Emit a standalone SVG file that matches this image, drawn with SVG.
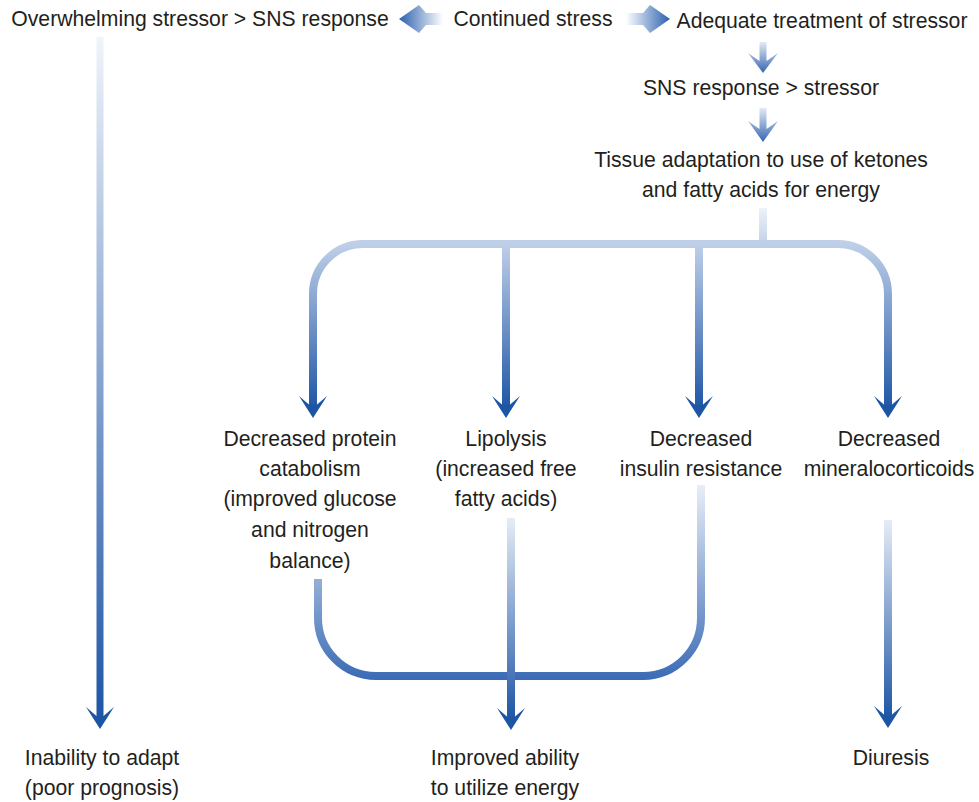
<svg xmlns="http://www.w3.org/2000/svg" width="979" height="802" viewBox="0 0 979 802">
  <style>
    text { font-family: "Liberation Sans", Arial, sans-serif; font-size: 21.2px; fill: #231f20; text-anchor: middle; }
    .flow { fill: none; stroke-width: 8; }
  </style>
  <defs>
    <marker id="head" markerUnits="userSpaceOnUse" markerWidth="40" markerHeight="40" refX="-12" refY="0" orient="auto" overflow="visible">
      <path d="M0,0 L-22,-14 L-13,-3.5 L-13,3.5 L-22,14 Z" fill="#1d55a5"/>
    </marker>
    <linearGradient id="gLeftLong" gradientUnits="userSpaceOnUse" x1="0" y1="37" x2="0" y2="720">
      <stop offset="0" stop-color="#f0f4fa"/>
      <stop offset="1" stop-color="#1d55a5"/>
    </linearGradient>
    <linearGradient id="gStem" gradientUnits="userSpaceOnUse" x1="0" y1="208" x2="0" y2="244">
      <stop offset="0" stop-color="#eef2f9"/>
      <stop offset="1" stop-color="#c2d1e8"/>
    </linearGradient>
    <linearGradient id="gFan" gradientUnits="userSpaceOnUse" x1="0" y1="244" x2="0" y2="410">
      <stop offset="0" stop-color="#bfcfe8"/>
      <stop offset="1" stop-color="#1d55a5"/>
    </linearGradient>
    <linearGradient id="gMerge" gradientUnits="userSpaceOnUse" x1="0" y1="485" x2="0" y2="680">
      <stop offset="0" stop-color="#e8eef7"/>
      <stop offset="1" stop-color="#3a6bb5"/>
    </linearGradient>
    <linearGradient id="gMid" gradientUnits="userSpaceOnUse" x1="0" y1="518" x2="0" y2="720">
      <stop offset="0" stop-color="#e6ecf6"/>
      <stop offset="1" stop-color="#1d55a5"/>
    </linearGradient>
    <linearGradient id="gRight" gradientUnits="userSpaceOnUse" x1="0" y1="520" x2="0" y2="718">
      <stop offset="0" stop-color="#e6ecf6"/>
      <stop offset="1" stop-color="#1d55a5"/>
    </linearGradient>
    <linearGradient id="gToLeft" x1="1" y1="0" x2="0" y2="0">
      <stop offset="0" stop-color="#ffffff"/>
      <stop offset="1" stop-color="#2a60ae"/>
    </linearGradient>
    <linearGradient id="gToRight" x1="0" y1="0" x2="1" y2="0">
      <stop offset="0" stop-color="#ffffff"/>
      <stop offset="1" stop-color="#2a60ae"/>
    </linearGradient>
    <linearGradient id="gDown" x1="0" y1="0" x2="0" y2="1">
      <stop offset="0" stop-color="#e4eaf5"/>
      <stop offset="1" stop-color="#3566b2"/>
    </linearGradient>
  </defs>

  <!-- connectors -->
  <g id="connectors">
    <!-- block arrows out of "Continued stress" -->
    <polygon points="399,19 419,5 426,13 443,13 443,25 426,25 419,33" fill="url(#gToLeft)"/>
    <polygon points="670,19 650,5 643,13 626,13 626,25 643,25 650,33" fill="url(#gToRight)"/>
    <!-- block arrows down the right column -->
    <polygon points="759.5,42 766.5,42 766.5,61 778,53 763,73 748,53 759.5,61" fill="url(#gDown)"/>
    <polygon points="759.5,108 766.5,108 766.5,129 778,121 763,142 748,121 759.5,129" fill="url(#gDown)"/>
    <!-- poor outcome branch -->
    <path d="M100,37 L100,717" fill="none" stroke="url(#gLeftLong)" stroke-width="7" marker-end="url(#head)"/>
    <!-- fan-out from tissue adaptation -->
    <path class="flow" d="M763,208 L763,245" stroke="url(#gStem)"/>
    <path class="flow" d="M313,406 L313,294 A50,50 0 0 1 363,244 L838,244 A50,50 0 0 1 888,294 L888,406" stroke="url(#gFan)" marker-end="url(#head)"/>
    <path class="flow" d="M313,300 L313,406" stroke="url(#gFan)" marker-end="url(#head)"/>
    <path class="flow" d="M506,244 L506,406" stroke="url(#gFan)" marker-end="url(#head)"/>
    <path class="flow" d="M699,244 L699,406" stroke="url(#gFan)" marker-end="url(#head)"/>
    <!-- merge into improved energy use -->
    <path class="flow" d="M318,579 L318,618 A58,58 0 0 0 376,676 L643,676 A58,58 0 0 0 701,618 L701,485" stroke="url(#gMerge)"/>
    <path class="flow" d="M511,518 L511,718" stroke="url(#gMid)" marker-end="url(#head)"/>
    <!-- mineralocorticoids to diuresis -->
    <path class="flow" d="M888,520 L888,716" stroke="url(#gRight)" marker-end="url(#head)"/>
  </g>

  <g id="overwhelming"><text x="200" y="26">Overwhelming stressor &gt; SNS response</text></g>
  <g id="continued"><text x="533" y="26">Continued stress</text></g>
  <g id="adequate"><text x="822" y="28">Adequate treatment of stressor</text></g>
  <g id="sns-stressor"><text x="761" y="95">SNS response &gt; stressor</text></g>
  <g id="tissue">
    <text x="761" y="167">Tissue adaptation to use of ketones</text>
    <text x="761" y="197">and fatty acids for energy</text>
  </g>
  <g id="protein">
    <text x="310" y="446">Decreased protein</text>
    <text x="310" y="476">catabolism</text>
    <text x="310" y="506">(improved glucose</text>
    <text x="310" y="537">and nitrogen</text>
    <text x="310" y="568">balance)</text>
  </g>
  <g id="lipolysis">
    <text x="506" y="446">Lipolysis</text>
    <text x="506" y="476">(increased free</text>
    <text x="506" y="506">fatty acids)</text>
  </g>
  <g id="insulin">
    <text x="701" y="446">Decreased</text>
    <text x="701" y="476">insulin resistance</text>
  </g>
  <g id="mineralo">
    <text x="889" y="446">Decreased</text>
    <text x="889" y="476">mineralocorticoids</text>
  </g>
  <g id="inability">
    <text x="102" y="765">Inability to adapt</text>
    <text x="102" y="795">(poor prognosis)</text>
  </g>
  <g id="improved">
    <text x="505" y="765">Improved ability</text>
    <text x="505" y="795">to utilize energy</text>
  </g>
  <g id="diuresis"><text x="891" y="765">Diuresis</text></g>
</svg>
